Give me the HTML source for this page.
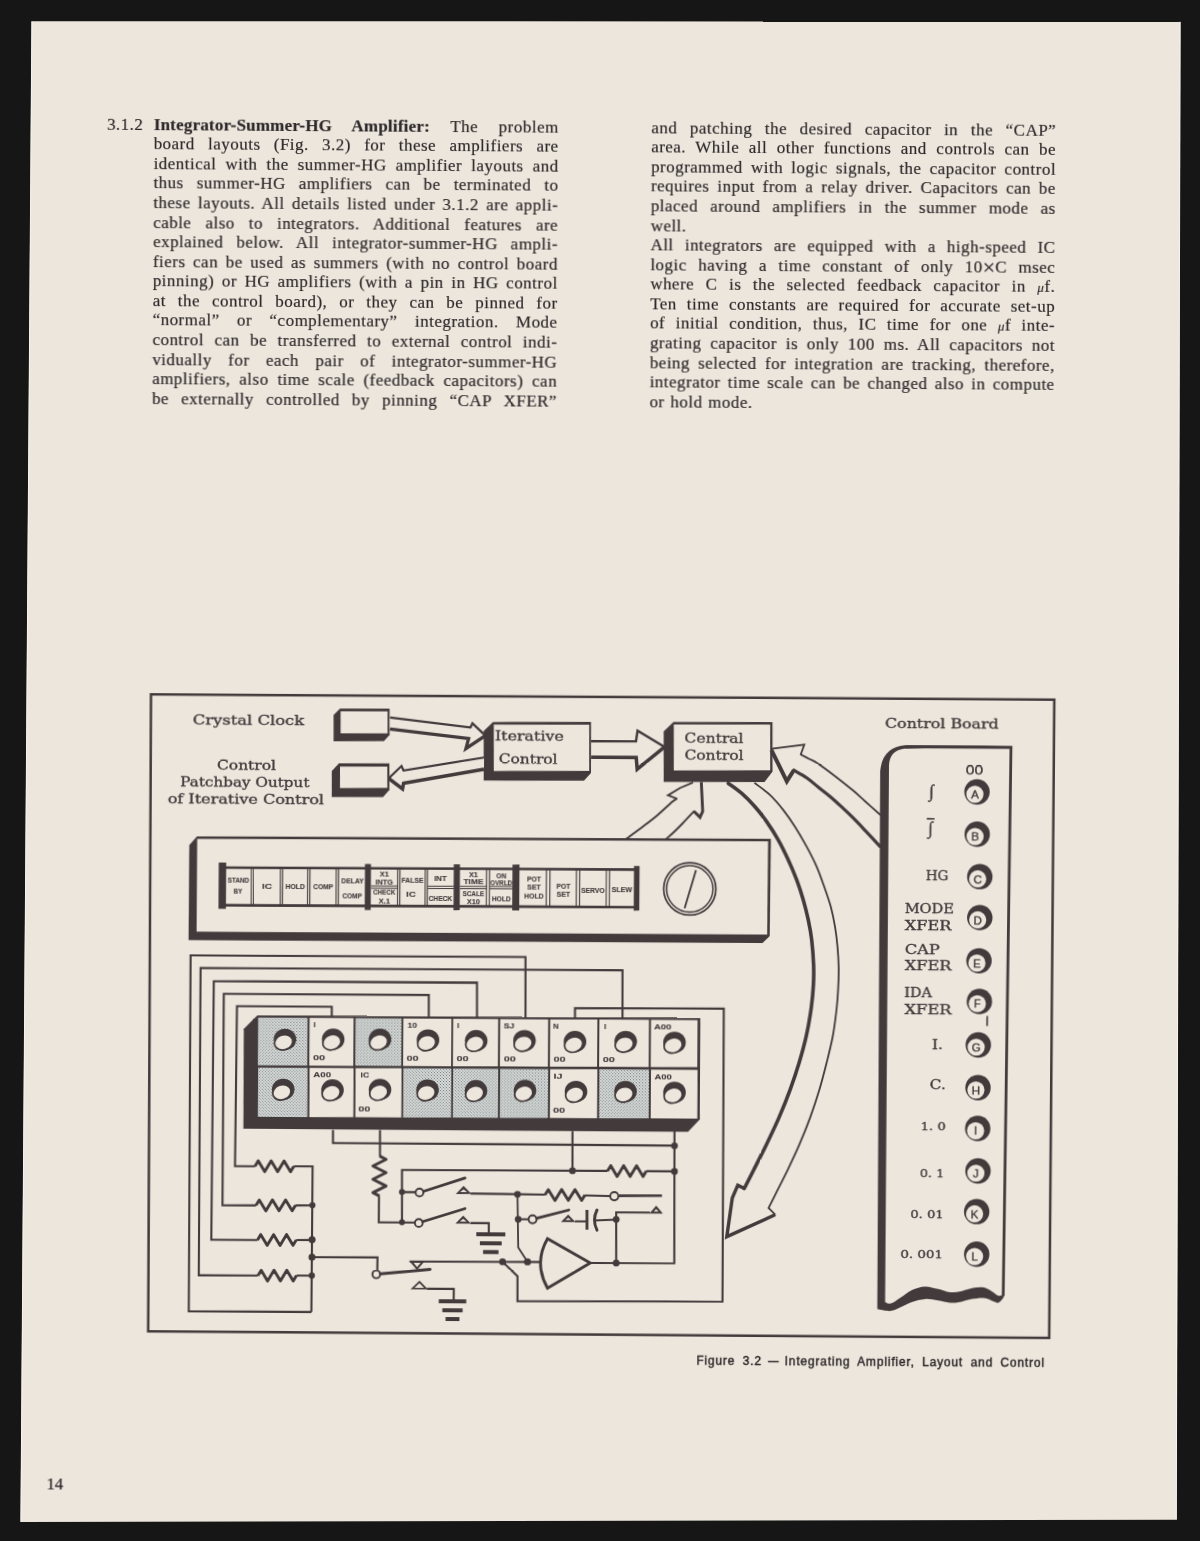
<!DOCTYPE html>
<html lang="en"><head><meta charset="utf-8"><title>Integrator-Summer-HG Amplifier &mdash; page 14</title>
<style>
html,body{margin:0;padding:0;background:#161616;}
#scan{position:relative;width:1200px;height:1541px;overflow:hidden;background:#161616;}
#paper{position:absolute;left:0;top:0;}
#sheet{position:absolute;left:0;top:0;width:1200px;height:1541px;transform:rotate(0.37deg);transform-origin:600px 770px;will-change:transform;
 color:#2d2829;font-family:"Liberation Serif","DejaVu Serif",serif;}
.col{position:absolute;width:405px;font-size:17px;line-height:19.58px;letter-spacing:0.48px;-webkit-text-stroke:0.18px #2d2829;}
.col p{margin:0;height:19.58px;white-space:nowrap;text-align:justify;text-align-last:justify;overflow:visible;}
.col p.nj{text-align:left;text-align-last:left;word-spacing:1px;}
.col b{font-weight:bold;letter-spacing:0.2px;}
.mu{font-size:13px;}
.x{font-size:22px;line-height:0;vertical-align:-1.5px;letter-spacing:0;}
#secno{position:absolute;font-size:17px;line-height:19.58px;letter-spacing:0.48px;-webkit-text-stroke:0.18px #2d2829;}
#cap{position:absolute;font-family:"Liberation Sans","DejaVu Sans",sans-serif;font-size:12px;line-height:14px;white-space:nowrap;
 letter-spacing:0.83px;word-spacing:3.2px;-webkit-text-stroke:0.42px #2d2829;}
#pgno{position:absolute;font-size:16.6px;line-height:18px;letter-spacing:0;-webkit-text-stroke:0.2px #2d2829;}
#dia{position:absolute;left:0;top:0;}
#dia text{fill:#423a3b;stroke:#423a3b;stroke-width:0.34px;}
#dia .ds{font-family:"DejaVu Serif","Liberation Serif",serif;}
#dia .ls{font-family:"Liberation Sans","DejaVu Sans",sans-serif;}
#dia .lr{font-family:"Liberation Serif","DejaVu Serif",serif;}
</style></head><body>
<div id="scan">
<svg id="paper" width="1200" height="1541" viewBox="0 0 1200 1541"><polygon points="31.6,21.2 1180.4,21.6 1176.6,1519.8 20.6,1522" fill="#ece6dd"/><path d="M31.9 21.4 L20.9 1521.8 M1180.1 21.8 L1176.3 1519.6" stroke="#f7f4ee" stroke-width="1" fill="none"/></svg>
<div id="sheet">
<div id="secno" style="left:102.88px;top:117.7px;">3.1.2</div>
<div class="col" style="left:149.63px;top:117.7px;">
<p><b>Integrator-Summer-HG Amplifier:</b> The problem</p>
<p>board layouts (Fig. 3.2) for these amplifiers are</p>
<p>identical with the summer-HG amplifier layouts and</p>
<p>thus summer-HG amplifiers can be terminated to</p>
<p>these layouts. All details listed under 3.1.2 are appli-</p>
<p>cable also to integrators. Additional features are</p>
<p>explained below. All integrator-summer-HG ampli-</p>
<p>fiers can be used as summers (with no control board</p>
<p>pinning) or HG amplifiers (with a pin in HG control</p>
<p>at the control board), or they can be pinned for</p>
<p>&ldquo;normal&rdquo; or &ldquo;complementary&rdquo; integration. Mode</p>
<p>control can be transferred to external control indi-</p>
<p>vidually for each pair of integrator-summer-HG</p>
<p>amplifiers, also time scale (feedback capacitors) can</p>
<p>be externally controlled by pinning &ldquo;CAP XFER&rdquo;</p>
</div>
<div class="col" style="left:647.14px;top:117.7px;">
<p>and patching the desired capacitor in the &ldquo;CAP&rdquo;</p>
<p>area. While all other functions and controls can be</p>
<p>programmed with logic signals, the capacitor control</p>
<p>requires input from a relay driver. Capacitors can be</p>
<p>placed around amplifiers in the summer mode as</p>
<p class="nj">well.</p>
<p>All integrators are equipped with a high-speed IC</p>
<p>logic having a time constant of only 10<span class="x">&times;</span>C msec</p>
<p>where C is the selected feedback capacitor in <i class="mu">&mu;</i>f.</p>
<p>Ten time constants are required for accurate set-up</p>
<p>of initial condition, thus, IC time for one <i class="mu">&mu;</i>f inte-</p>
<p>grating capacitor is only 100 ms. All capacitors not</p>
<p>being selected for integration are tracking, therefore,</p>
<p>integrator time scale can be changed also in compute</p>
<p class="nj">or hold mode.</p>
</div>
<svg id="dia" width="1200" height="1541" viewBox="0 0 1200 1541">
<defs><pattern id="ht" width="2.1" height="2.1" patternUnits="userSpaceOnUse" patternTransform="rotate(45)"><rect width="2.1" height="2.1" fill="#dce0de"/><circle cx="1.05" cy="1.05" r="0.6" fill="#6a7172"/></pattern></defs>
<path d="M150.52 697.2 L1053.84 696.67 L1052.86 1335.09 L151.83 1334.21 Z" fill="none" stroke="#423a3b" stroke-width="2.5" stroke-linecap="butt" stroke-linejoin="miter"/>
<path d="M339.61 710.28 L389.21 709.96 L389.38 736.36 L383.82 742.6 L333.42 742.92 L333.25 716.72 Z" fill="#423a3b" stroke="none" stroke-width="0" stroke-linejoin="miter"/>
<path d="M340.23 712.98 L387.23 712.67 L387.37 734.67 L340.37 734.98 Z" fill="#ece6dd" stroke="none" stroke-width="0" stroke-linejoin="miter"/>
<path d="M338.96 765.09 L389.36 764.76 L389.53 791.36 L383.18 798.4 L331.98 798.73 L331.81 772.73 Z" fill="#423a3b" stroke="none" stroke-width="0" stroke-linejoin="miter"/>
<path d="M339.98 768.28 L387.28 767.97 L387.42 789.37 L340.12 789.68 Z" fill="#ece6dd" stroke="none" stroke-width="0" stroke-linejoin="miter"/>
<path d="M492.69 722.69 L590.69 722.06 L591.02 773.06 L584.07 780.7 L483.77 781.35 L483.45 731.75 Z" fill="#423a3b" stroke="none" stroke-width="0" stroke-linejoin="miter"/>
<path d="M493.51 725.29 L588.91 724.67 L589.21 771.07 L493.81 771.69 Z" fill="#ece6dd" stroke="none" stroke-width="0" stroke-linejoin="miter"/>
<path d="M673.19 721.53 L772.19 720.89 L772.51 770.39 L764.57 780.94 L663.78 781.59 L663.45 731.09 Z" fill="#423a3b" stroke="none" stroke-width="0" stroke-linejoin="miter"/>
<path d="M673.51 724.12 L769.9 723.5 L770.2 769.3 L673.8 769.92 Z" fill="#ece6dd" stroke="none" stroke-width="0" stroke-linejoin="miter"/>
<text x="192.42" y="727.23" font-size="13.2" text-anchor="start" class="ds" font-weight="normal" textLength="111.5" lengthAdjust="spacingAndGlyphs">Crystal Clock</text>
<text x="217" y="771.87" font-size="13.2" text-anchor="start" class="ds" font-weight="normal" textLength="59" lengthAdjust="spacingAndGlyphs">Control</text>
<text x="180.31" y="789.01" font-size="13.2" text-anchor="start" class="ds" font-weight="normal" textLength="129.2" lengthAdjust="spacingAndGlyphs">Patchbay Output</text>
<text x="167.92" y="805.79" font-size="13.2" text-anchor="start" class="ds" font-weight="normal" textLength="156.3" lengthAdjust="spacingAndGlyphs">of Iterative Control</text>
<text x="884.72" y="726.16" font-size="13.2" text-anchor="start" class="ds" font-weight="normal" textLength="113.8" lengthAdjust="spacingAndGlyphs">Control Board</text>
<path d="M389.67 718.86 L470.23 728.34 L472.2 724.12 L485.18 736.34 L465.86 749.37 L468.4 739.45 L389.74 730.36 Z" fill="#ece6dd" stroke="#423a3b" stroke-width="0" stroke-linecap="butt" stroke-linejoin="miter"/>
<path d="M389.67 718.86 L470.23 728.34 L472.2 724.12 L485.18 736.34" fill="none" stroke="#423a3b" stroke-width="2.3" stroke-linecap="butt" stroke-linejoin="miter"/>
<path d="M485.18 736.34 L465.86 749.37 L468.4 739.45 L389.74 730.36" fill="none" stroke="#423a3b" stroke-width="3.3" stroke-linecap="butt" stroke-linejoin="miter"/>
<path d="M483.92 758.25 L403.51 771.77 L401.48 767.28 L388.66 779.76 L402.63 790.27 L403.69 784.47 L484 769.95 Z" fill="#ece6dd" stroke="#423a3b" stroke-width="0" stroke-linecap="butt" stroke-linejoin="miter"/>
<path d="M483.92 758.25 L403.51 771.77 L401.48 767.28 L388.66 779.76" fill="none" stroke="#423a3b" stroke-width="2.2" stroke-linecap="butt" stroke-linejoin="miter"/>
<path d="M388.66 779.76 L402.63 790.27 L403.69 784.47 L484 769.95" fill="none" stroke="#423a3b" stroke-width="3.5" stroke-linecap="butt" stroke-linejoin="miter"/>
<path d="M591.01 741.26 L635.81 740.97 L637.34 730.36 L664.35 746.58 L637.19 768.96 L636.12 757.17 L591.12 757.26 Z" fill="#ece6dd" stroke="#423a3b" stroke-width="0" stroke-linecap="butt" stroke-linejoin="miter"/>
<path d="M591.01 741.26 L635.81 740.97 L637.34 730.36 L664.35 746.58" fill="none" stroke="#423a3b" stroke-width="2.4" stroke-linecap="butt" stroke-linejoin="miter"/>
<path d="M664.35 746.58 L637.19 768.96 L636.12 757.17 L591.12 757.26" fill="none" stroke="#423a3b" stroke-width="3.5" stroke-linecap="butt" stroke-linejoin="miter"/>
<path d="M627.14 838.33 C629.85 836.31 638.29 830.12 643.36 826.22 C648.44 822.32 652.78 819.04 657.59 814.93 C662.4 810.81 668.99 804.32 672.21 801.53 C675.42 798.75 676.1 798.76 676.88 798.2" fill="none" stroke="#423a3b" stroke-width="1.9" stroke-linecap="round" stroke-linejoin="round"/>
<path d="M676.88 798.2 L668.16 794.86 L680.11 787.48 L693.08 781.8" fill="none" stroke="#423a3b" stroke-width="1.9" stroke-linecap="butt" stroke-linejoin="miter"/>
<path d="M701.38 781.35 L702.96 810.64 L700.3 816.65 L694.26 810.69" fill="none" stroke="#423a3b" stroke-width="2.9" stroke-linecap="butt" stroke-linejoin="miter"/>
<path d="M694.26 810.69 C692.39 812.7 686.35 819.29 683.04 822.76 C679.73 826.24 677.05 828.97 674.4 831.52 C671.75 834.07 668.35 836.98 667.14 838.07" fill="none" stroke="#423a3b" stroke-width="1.9" stroke-linecap="round" stroke-linejoin="round"/>
<path d="M800.7 753.2 L804.13 743.28 L771.56 747.69" fill="none" stroke="#423a3b" stroke-width="1.8" stroke-linecap="butt" stroke-linejoin="miter"/>
<path d="M800.7 753.2 C802.07 753.91 806 755.92 808.92 757.45 C811.85 758.98 813.77 759.44 818.26 762.39 C822.74 765.34 829.98 770.73 835.84 775.18 C841.7 779.62 848.54 785.01 853.43 789.06 C858.32 793.12 860.72 795.53 865.2 799.49 C869.67 803.44 877.77 810.57 880.28 812.79" fill="none" stroke="#423a3b" stroke-width="1.8" stroke-linecap="round" stroke-linejoin="round"/>
<path d="M771.27 748.89 L786.87 780.09 L793.8 768.95" fill="none" stroke="#423a3b" stroke-width="4" stroke-linecap="butt" stroke-linejoin="miter"/>
<path d="M793.8 768.95 C795.96 770.2 802.64 773.66 806.75 776.47 C810.85 779.27 814.5 782.7 818.41 785.79 C822.31 788.88 826.25 791.74 830.17 795.01 C834.09 798.29 838.03 801.86 841.93 805.44 C845.84 809.01 849.7 812.61 853.61 816.46 C857.51 820.32 860.9 823.9 865.38 828.59 C869.86 833.28 877.97 841.92 880.49 844.59" fill="none" stroke="#423a3b" stroke-width="3.2" stroke-linecap="round" stroke-linejoin="round"/>
<path d="M728.38 782.47 C730.63 784.12 737.37 788.51 741.85 792.38 C746.32 796.26 751.04 800.99 755.23 805.7 C759.43 810.4 763.11 815.1 767.03 820.62 C770.95 826.15 775.11 832.49 778.75 838.85 C782.39 845.21 785.77 852.14 788.88 858.78 C791.99 865.43 794.86 872.08 797.41 878.73 C799.95 885.38 802.16 892.03 804.14 898.68 C806.11 905.34 807.82 911.99 809.26 918.65 C810.71 925.31 811.86 931.14 812.79 938.63 C813.73 946.12 814.52 956.12 814.85 963.62 C815.19 971.11 815.12 976.53 814.78 983.62 C814.45 990.7 813.93 997.79 812.83 1006.13 C811.73 1014.47 810.16 1024.48 808.21 1033.66 C806.25 1042.84 803.78 1052.02 801.08 1061.21 C798.39 1070.39 795.37 1079.58 792.06 1088.77 C788.76 1097.95 785.15 1107.14 781.24 1116.34 C777.33 1125.53 772.84 1135.02 768.62 1143.92 C764.39 1152.81 759.49 1162.43 755.88 1169.7 C752.28 1176.98 748.48 1184.58 747 1187.56" fill="none" stroke="#423a3b" stroke-width="3.6" stroke-linecap="round" stroke-linejoin="round"/>
<path d="M755.08 782.3 C757.6 784.23 765.41 789.48 770.16 793.9 C774.9 798.32 779.35 803.56 783.55 808.82 C787.76 814.07 791.42 819.35 795.36 825.44 C799.3 831.53 803.53 838.72 807.19 845.36 C810.85 852.01 814.36 858.65 817.32 865.3 C820.28 871.95 822.56 878.6 824.95 885.25 C827.34 891.9 829.83 898.55 831.68 905.21 C833.52 911.86 834.85 918.52 836.01 925.18 C837.17 931.84 837.98 938.28 838.64 945.16 C839.3 952.04 839.81 959.57 839.97 966.45 C840.13 973.34 839.89 979.87 839.6 986.46 C839.32 993.04 839.09 998.13 838.28 1005.97 C837.46 1013.8 836.32 1024.31 834.71 1033.49 C833.09 1042.67 830.81 1051.85 828.58 1061.03 C826.36 1070.21 824.05 1079.39 821.36 1088.58 C818.67 1097.76 815.73 1106.95 812.44 1116.14 C809.15 1125.32 805.23 1135.13 801.62 1143.71 C798.01 1152.28 794.39 1159.92 790.77 1167.58 C787.15 1175.23 783.14 1183.09 779.91 1189.65 C776.69 1196.2 772.84 1204.03 771.42 1206.9" fill="none" stroke="#423a3b" stroke-width="1.8" stroke-linecap="round" stroke-linejoin="round"/>
<path d="M747 1187.56 L740.48 1184.4 L735.06 1197.14 L729.81 1235.87 L778.17 1213.56" fill="none" stroke="#423a3b" stroke-width="3.4" stroke-linecap="butt" stroke-linejoin="miter"/>
<path d="M778.17 1213.56 L771.42 1206.9" fill="none" stroke="#423a3b" stroke-width="1.8" stroke-linecap="butt" stroke-linejoin="miter"/>
<path d="M197.44 839 L771.34 837.69 L770.77 934.9 L763.61 941.95 L189.71 942.85 L189.79 847.65 Z" fill="#423a3b" stroke="none" stroke-width="0" stroke-linejoin="miter"/>
<path d="M197.65 841.5 L768.56 840.21 L768.26 933.52 L197.65 934.2 Z" fill="#ece6dd" stroke="none" stroke-width="0" stroke-linejoin="miter"/>
<path d="M222.64 870.04 L637.64 869.36" fill="none" stroke="#423a3b" stroke-width="2.6" stroke-linecap="butt" stroke-linejoin="miter"/>
<path d="M222.88 907.64 L637.89 906.96" fill="none" stroke="#423a3b" stroke-width="2.6" stroke-linecap="butt" stroke-linejoin="miter"/>
<path d="M219.41 864.96 L226.81 864.91 L226.8 911.21 L219.4 911.26 Z" fill="#423a3b" stroke="none" stroke-width="0" stroke-linejoin="miter"/>
<path d="M365.61 865.52 L371.61 865.48 L371.61 911.48 L365.61 911.52 Z" fill="#423a3b" stroke="none" stroke-width="0" stroke-linejoin="miter"/>
<path d="M454.41 865.34 L460.61 865.3 L460.61 911.1 L454.41 911.14 Z" fill="#423a3b" stroke="none" stroke-width="0" stroke-linejoin="miter"/>
<path d="M513.11 865.16 L520.11 865.12 L520.11 910.92 L513.11 910.96 Z" fill="#423a3b" stroke="none" stroke-width="0" stroke-linejoin="miter"/>
<path d="M634.62 865.78 L640.22 865.74 L640.21 910.34 L634.61 910.38 Z" fill="#423a3b" stroke="none" stroke-width="0" stroke-linejoin="miter"/>
<path d="M252.14 870 L252.13 907.6" fill="none" stroke="#423a3b" stroke-width="1.1" stroke-linecap="butt" stroke-linejoin="miter"/>
<path d="M254.44 869.99 L254.43 907.6" fill="none" stroke="#423a3b" stroke-width="1.1" stroke-linecap="butt" stroke-linejoin="miter"/>
<path d="M281.14 869.95 L281.13 907.55" fill="none" stroke="#423a3b" stroke-width="1.1" stroke-linecap="butt" stroke-linejoin="miter"/>
<path d="M283.34 869.95 L283.33 907.55" fill="none" stroke="#423a3b" stroke-width="1.1" stroke-linecap="butt" stroke-linejoin="miter"/>
<path d="M308.44 869.9 L308.43 907.5" fill="none" stroke="#423a3b" stroke-width="1.1" stroke-linecap="butt" stroke-linejoin="miter"/>
<path d="M310.64 869.9 L310.63 907.5" fill="none" stroke="#423a3b" stroke-width="1.1" stroke-linecap="butt" stroke-linejoin="miter"/>
<path d="M336.94 869.86 L336.93 907.46" fill="none" stroke="#423a3b" stroke-width="1.1" stroke-linecap="butt" stroke-linejoin="miter"/>
<path d="M339.24 869.85 L339.23 907.45" fill="none" stroke="#423a3b" stroke-width="1.1" stroke-linecap="butt" stroke-linejoin="miter"/>
<path d="M398.44 869.75 L398.43 907.35" fill="none" stroke="#423a3b" stroke-width="1.1" stroke-linecap="butt" stroke-linejoin="miter"/>
<path d="M400.64 869.75 L400.63 907.35" fill="none" stroke="#423a3b" stroke-width="1.1" stroke-linecap="butt" stroke-linejoin="miter"/>
<path d="M425.94 869.71 L425.93 907.31" fill="none" stroke="#423a3b" stroke-width="1.1" stroke-linecap="butt" stroke-linejoin="miter"/>
<path d="M428.14 869.7 L428.13 907.3" fill="none" stroke="#423a3b" stroke-width="1.1" stroke-linecap="butt" stroke-linejoin="miter"/>
<path d="M487.24 869.6 L487.23 907.2" fill="none" stroke="#423a3b" stroke-width="1.1" stroke-linecap="butt" stroke-linejoin="miter"/>
<path d="M490.24 869.6 L490.23 907.2" fill="none" stroke="#423a3b" stroke-width="1.1" stroke-linecap="butt" stroke-linejoin="miter"/>
<path d="M547.14 869.5 L547.13 907.1" fill="none" stroke="#423a3b" stroke-width="1.1" stroke-linecap="butt" stroke-linejoin="miter"/>
<path d="M550.64 869.5 L550.63 907.1" fill="none" stroke="#423a3b" stroke-width="1.1" stroke-linecap="butt" stroke-linejoin="miter"/>
<path d="M577.14 869.45 L577.13 907.05" fill="none" stroke="#423a3b" stroke-width="1.1" stroke-linecap="butt" stroke-linejoin="miter"/>
<path d="M580.44 869.45 L580.43 907.05" fill="none" stroke="#423a3b" stroke-width="1.1" stroke-linecap="butt" stroke-linejoin="miter"/>
<path d="M607.04 869.4 L607.03 907" fill="none" stroke="#423a3b" stroke-width="1.1" stroke-linecap="butt" stroke-linejoin="miter"/>
<path d="M610.24 869.4 L610.23 907" fill="none" stroke="#423a3b" stroke-width="1.1" stroke-linecap="butt" stroke-linejoin="miter"/>
<path d="M371.75 887.4 L398.55 887.32" fill="none" stroke="#423a3b" stroke-width="1" stroke-linecap="butt" stroke-linejoin="miter"/>
<path d="M371.77 889.7 L398.57 889.62" fill="none" stroke="#423a3b" stroke-width="1" stroke-linecap="butt" stroke-linejoin="miter"/>
<path d="M428.25 887.3 L454.75 887.23" fill="none" stroke="#423a3b" stroke-width="1" stroke-linecap="butt" stroke-linejoin="miter"/>
<path d="M428.27 889.6 L454.77 889.53" fill="none" stroke="#423a3b" stroke-width="1" stroke-linecap="butt" stroke-linejoin="miter"/>
<path d="M460.75 887.25 L487.35 887.18" fill="none" stroke="#423a3b" stroke-width="1" stroke-linecap="butt" stroke-linejoin="miter"/>
<path d="M460.77 889.55 L487.37 889.48" fill="none" stroke="#423a3b" stroke-width="1" stroke-linecap="butt" stroke-linejoin="miter"/>
<path d="M490.35 887.2 L513.35 887.15" fill="none" stroke="#423a3b" stroke-width="1" stroke-linecap="butt" stroke-linejoin="miter"/>
<path d="M490.37 889.5 L513.37 889.45" fill="none" stroke="#423a3b" stroke-width="1" stroke-linecap="butt" stroke-linejoin="miter"/>
<text x="239.23" y="884.83" font-size="6.3" text-anchor="middle" class="ls" font-weight="bold" textLength="21.5" lengthAdjust="spacingAndGlyphs" style="stroke-width:0.1px">STAND</text>
<text x="238.81" y="895.84" font-size="6.3" text-anchor="middle" class="ls" font-weight="bold" textLength="8.5" lengthAdjust="spacingAndGlyphs" style="stroke-width:0.1px">BY</text>
<text x="267.78" y="891.45" font-size="6.3" text-anchor="middle" class="ls" font-weight="bold" textLength="10" lengthAdjust="spacingAndGlyphs" style="stroke-width:0.1px">IC</text>
<text x="295.98" y="891.47" font-size="6.3" text-anchor="middle" class="ls" font-weight="bold" textLength="19.5" lengthAdjust="spacingAndGlyphs" style="stroke-width:0.1px">HOLD</text>
<text x="324.08" y="891.28" font-size="6.3" text-anchor="middle" class="ls" font-weight="bold" textLength="20" lengthAdjust="spacingAndGlyphs" style="stroke-width:0.1px">COMP</text>
<text x="353.24" y="885.4" font-size="6.3" text-anchor="middle" class="ls" font-weight="bold" textLength="22.5" lengthAdjust="spacingAndGlyphs" style="stroke-width:0.1px">DELAY</text>
<text x="353.13" y="900.1" font-size="6.3" text-anchor="middle" class="ls" font-weight="bold" textLength="19.5" lengthAdjust="spacingAndGlyphs" style="stroke-width:0.1px">COMP</text>
<text x="384.99" y="877.89" font-size="6.3" text-anchor="middle" class="ls" font-weight="bold" textLength="9" lengthAdjust="spacingAndGlyphs" style="stroke-width:0.1px">X1</text>
<text x="385.04" y="885.59" font-size="6.3" text-anchor="middle" class="ls" font-weight="bold" textLength="17.5" lengthAdjust="spacingAndGlyphs" style="stroke-width:0.1px">INTG</text>
<text x="385.11" y="896.39" font-size="6.3" text-anchor="middle" class="ls" font-weight="bold" textLength="22" lengthAdjust="spacingAndGlyphs" style="stroke-width:0.1px">CHECK</text>
<text x="385.17" y="904.99" font-size="6.3" text-anchor="middle" class="ls" font-weight="bold" textLength="11.5" lengthAdjust="spacingAndGlyphs" style="stroke-width:0.1px">X.1</text>
<text x="413.33" y="884.21" font-size="6.3" text-anchor="middle" class="ls" font-weight="bold" textLength="22" lengthAdjust="spacingAndGlyphs" style="stroke-width:0.1px">FALSE</text>
<text x="411.82" y="897.72" font-size="6.3" text-anchor="middle" class="ls" font-weight="bold" textLength="9.5" lengthAdjust="spacingAndGlyphs" style="stroke-width:0.1px">IC</text>
<text x="441.22" y="882.03" font-size="6.3" text-anchor="middle" class="ls" font-weight="bold" textLength="12.5" lengthAdjust="spacingAndGlyphs" style="stroke-width:0.1px">INT</text>
<text x="441.35" y="901.53" font-size="6.3" text-anchor="middle" class="ls" font-weight="bold" textLength="23.5" lengthAdjust="spacingAndGlyphs" style="stroke-width:0.1px">CHECK</text>
<text x="474.19" y="877.81" font-size="6.3" text-anchor="middle" class="ls" font-weight="bold" textLength="9" lengthAdjust="spacingAndGlyphs" style="stroke-width:0.1px">X1</text>
<text x="474.24" y="885.21" font-size="6.3" text-anchor="middle" class="ls" font-weight="bold" textLength="20" lengthAdjust="spacingAndGlyphs" style="stroke-width:0.1px">TIME</text>
<text x="474.32" y="896.61" font-size="6.3" text-anchor="middle" class="ls" font-weight="bold" textLength="21.5" lengthAdjust="spacingAndGlyphs" style="stroke-width:0.1px">SCALE</text>
<text x="474.37" y="904.81" font-size="6.3" text-anchor="middle" class="ls" font-weight="bold" textLength="13" lengthAdjust="spacingAndGlyphs" style="stroke-width:0.1px">X10</text>
<text x="502" y="878.64" font-size="6.3" text-anchor="middle" class="ls" font-weight="bold" textLength="10" lengthAdjust="spacingAndGlyphs" style="stroke-width:0.1px">ON</text>
<text x="502.04" y="885.63" font-size="6.3" text-anchor="middle" class="ls" font-weight="bold" textLength="22" lengthAdjust="spacingAndGlyphs" style="stroke-width:0.1px">OVRLD</text>
<text x="502.15" y="901.63" font-size="6.3" text-anchor="middle" class="ls" font-weight="bold" textLength="19" lengthAdjust="spacingAndGlyphs" style="stroke-width:0.1px">HOLD</text>
<text x="534.72" y="882.22" font-size="6.3" text-anchor="middle" class="ls" font-weight="bold" textLength="14" lengthAdjust="spacingAndGlyphs" style="stroke-width:0.1px">POT</text>
<text x="534.78" y="890.42" font-size="6.3" text-anchor="middle" class="ls" font-weight="bold" textLength="13.5" lengthAdjust="spacingAndGlyphs" style="stroke-width:0.1px">SET</text>
<text x="534.83" y="898.92" font-size="6.3" text-anchor="middle" class="ls" font-weight="bold" textLength="19.5" lengthAdjust="spacingAndGlyphs" style="stroke-width:0.1px">HOLD</text>
<text x="564.27" y="888.73" font-size="6.3" text-anchor="middle" class="ls" font-weight="bold" textLength="14" lengthAdjust="spacingAndGlyphs" style="stroke-width:0.1px">POT</text>
<text x="564.32" y="897.23" font-size="6.3" text-anchor="middle" class="ls" font-weight="bold" textLength="13.5" lengthAdjust="spacingAndGlyphs" style="stroke-width:0.1px">SET</text>
<text x="593.79" y="892.84" font-size="6.3" text-anchor="middle" class="ls" font-weight="bold" textLength="23.5" lengthAdjust="spacingAndGlyphs" style="stroke-width:0.1px">SERVO</text>
<text x="622.79" y="892.16" font-size="6.3" text-anchor="middle" class="ls" font-weight="bold" textLength="20.5" lengthAdjust="spacingAndGlyphs" style="stroke-width:0.1px">SLEW</text>
<circle cx="690.57" cy="888.32" r="26.1" fill="#ece6dd" stroke="#423a3b" stroke-width="1.7"/>
<circle cx="690.57" cy="888.32" r="23.2" fill="none" stroke="#423a3b" stroke-width="1.5"/>
<path d="M696.64 869.38 L685.49 907.75" fill="none" stroke="#423a3b" stroke-width="1.8" stroke-linecap="butt" stroke-linejoin="miter"/>
<text x="494.81" y="741.08" font-size="13.2" text-anchor="start" class="ds" font-weight="normal" textLength="68.8" lengthAdjust="spacingAndGlyphs">Iterative</text>
<text x="498.76" y="764.05" font-size="13.2" text-anchor="start" class="ds" font-weight="normal" textLength="58.8" lengthAdjust="spacingAndGlyphs">Control</text>
<text x="684.32" y="742.25" font-size="13.2" text-anchor="start" class="ds" font-weight="normal" textLength="59" lengthAdjust="spacingAndGlyphs">Central</text>
<text x="684.43" y="758.65" font-size="13.2" text-anchor="start" class="ds" font-weight="normal" textLength="59" lengthAdjust="spacingAndGlyphs">Control</text>
<path d="M527.11 1019.48 L526.71 957.48 L191.81 958.04 L192.3 1313.94 L314.91 1313.85" fill="none" stroke="#423a3b" stroke-width="2.1" stroke-linecap="butt" stroke-linejoin="miter"/>
<path d="M624.11 1019.35 L623.79 970.05 L201.89 970.58 L202.07 1277.88 L261.27 1277.8" fill="none" stroke="#423a3b" stroke-width="2.1" stroke-linecap="butt" stroke-linejoin="miter"/>
<path d="M478.61 1019.29 L478.38 983.39 L215.17 983.69 L214.34 1242.3 L260.54 1242.2" fill="none" stroke="#423a3b" stroke-width="2.1" stroke-linecap="butt" stroke-linejoin="miter"/>
<path d="M430.41 1019.1 L430.26 996.1 L225.25 996.22 L225.32 1207.73 L258.82 1207.61" fill="none" stroke="#423a3b" stroke-width="2.1" stroke-linecap="butt" stroke-linejoin="miter"/>
<path d="M333.4 1019.23 L333.33 1008.53 L238.53 1008.54 L237.57 1168.55 L257.57 1168.52" fill="none" stroke="#423a3b" stroke-width="2.1" stroke-linecap="butt" stroke-linejoin="miter"/>
<path d="M576.61 1019.66 L576.54 1008.36 L725.34 1007.8 L725.93 1300.8 L520.93 1301.72 L520.77 1276.82 L505.68 1262.42" fill="none" stroke="#423a3b" stroke-width="2.1" stroke-linecap="butt" stroke-linejoin="miter"/>
<path d="M257.57 1168.52 L260.76 1163.1 L267.3 1173.86 L273.7 1163.02 L280.23 1173.77 L286.63 1162.93 L293.17 1173.69 L296.37 1168.27" fill="none" stroke="#423a3b" stroke-width="2.9" stroke-linecap="butt" stroke-linejoin="round"/>
<path d="M258.82 1207.61 L262.08 1202.19 L268.73 1212.95 L275.24 1202.11 L281.89 1212.86 L288.41 1202.02 L295.06 1212.78 L298.32 1207.36" fill="none" stroke="#423a3b" stroke-width="2.9" stroke-linecap="butt" stroke-linejoin="round"/>
<path d="M260.54 1242.2 L263.73 1236.78 L270.25 1247.54 L276.63 1236.7 L283.15 1247.46 L289.53 1236.61 L296.05 1247.37 L299.24 1241.95" fill="none" stroke="#423a3b" stroke-width="2.9" stroke-linecap="butt" stroke-linejoin="round"/>
<path d="M261.27 1277.8 L264.44 1272.38 L270.91 1283.14 L277.24 1272.29 L283.71 1283.05 L290.04 1272.21 L296.51 1282.97 L299.67 1277.55" fill="none" stroke="#423a3b" stroke-width="2.9" stroke-linecap="butt" stroke-linejoin="round"/>
<path d="M296.37 1168.27 L315.17 1168.25 L314.91 1313.85" fill="none" stroke="#423a3b" stroke-width="2.1" stroke-linecap="butt" stroke-linejoin="miter"/>
<path d="M298.32 1207.36 L315.22 1207.25" fill="none" stroke="#423a3b" stroke-width="2.1" stroke-linecap="butt" stroke-linejoin="miter"/>
<path d="M299.24 1241.95 L315.14 1241.85" fill="none" stroke="#423a3b" stroke-width="2.1" stroke-linecap="butt" stroke-linejoin="miter"/>
<path d="M299.67 1277.55 L315.07 1277.45" fill="none" stroke="#423a3b" stroke-width="2.1" stroke-linecap="butt" stroke-linejoin="miter"/>
<circle cx="315.22" cy="1207.05" r="3.1" fill="#423a3b" stroke="none" stroke-width="0"/>
<circle cx="315.14" cy="1241.45" r="3.5" fill="#423a3b" stroke="none" stroke-width="0"/>
<circle cx="315.15" cy="1259.05" r="3.5" fill="#423a3b" stroke="none" stroke-width="0"/>
<circle cx="315.07" cy="1277.45" r="3.1" fill="#423a3b" stroke="none" stroke-width="0"/>
<path d="M315.15 1259.05 L380.65 1258.83 L380.53 1271.43" fill="none" stroke="#423a3b" stroke-width="2.1" stroke-linecap="butt" stroke-linejoin="miter"/>
<circle cx="379.56" cy="1275.73" r="3.9" fill="#ece6dd" stroke="#423a3b" stroke-width="1.9"/>
<path d="M383.76 1275.21 L433.23 1270.49" fill="none" stroke="#423a3b" stroke-width="2.9" stroke-linecap="round" stroke-linejoin="miter"/>
<path d="M412.68 1262.62 L427.68 1262.52 L420.23 1271.17 Z" fill="#423a3b" stroke="none" stroke-width="0" stroke-linejoin="miter"/>
<path d="M416.79 1263.99 L423.79 1263.95 L420.21 1268.17 Z" fill="#ece6dd" stroke="none" stroke-width="0" stroke-linejoin="miter"/>
<path d="M412.68 1262.72 L543.68 1262.37" fill="none" stroke="#423a3b" stroke-width="2.1" stroke-linecap="butt" stroke-linejoin="miter"/>
<path d="M413.86 1290.51 L431.36 1290.4 L422.8 1281.75 Z" fill="#423a3b" stroke="none" stroke-width="0" stroke-linejoin="miter"/>
<path d="M417.85 1288.99 L427.35 1288.93 L422.72 1284.16 Z" fill="#ece6dd" stroke="none" stroke-width="0" stroke-linejoin="miter"/>
<path d="M430.35 1289.91 L457.15 1289.83 L457.13 1301.93" fill="none" stroke="#423a3b" stroke-width="2.1" stroke-linecap="butt" stroke-linejoin="miter"/>
<path d="M442.18 1302.33 L469.68 1302.15" fill="none" stroke="#423a3b" stroke-width="4" stroke-linecap="butt" stroke-linejoin="miter"/>
<path d="M445.84 1311.31 L466.14 1311.28" fill="none" stroke="#423a3b" stroke-width="4" stroke-linecap="butt" stroke-linejoin="miter"/>
<path d="M449.1 1320.09 L463 1320.1" fill="none" stroke="#423a3b" stroke-width="4" stroke-linecap="butt" stroke-linejoin="miter"/>
<path d="M382.33 1131.41 L382.5 1157.41" fill="none" stroke="#423a3b" stroke-width="2.1" stroke-linecap="butt" stroke-linejoin="miter"/>
<path d="M382 1157.42 L388.62 1160.71 L375.46 1167.46 L388.7 1174.04 L375.55 1180.79 L388.79 1187.37 L375.63 1194.12 L382.26 1197.42" fill="none" stroke="#423a3b" stroke-width="2.9" stroke-linecap="butt" stroke-linejoin="round"/>
<path d="M381.76 1197.42 L381.72 1223.62 L420.93 1223.77" fill="none" stroke="#423a3b" stroke-width="2.1" stroke-linecap="butt" stroke-linejoin="miter"/>
<path d="M335.33 1131.72 L335.41 1144.72 L676.92 1145.11" fill="none" stroke="#423a3b" stroke-width="2.1" stroke-linecap="butt" stroke-linejoin="miter"/>
<path d="M420.73 1193.37 L404.73 1193.27 L404.93 1223.67" fill="none" stroke="#423a3b" stroke-width="2.1" stroke-linecap="butt" stroke-linejoin="miter"/>
<path d="M404.73 1193.27 L404.59 1171.27 L610.09 1170.84" fill="none" stroke="#423a3b" stroke-width="2.1" stroke-linecap="butt" stroke-linejoin="miter"/>
<circle cx="404.73" cy="1193.27" r="3" fill="#423a3b" stroke="none" stroke-width="0"/>
<circle cx="404.92" cy="1223.47" r="3" fill="#423a3b" stroke="none" stroke-width="0"/>
<circle cx="422.23" cy="1193.66" r="3.9" fill="#ece6dd" stroke="#423a3b" stroke-width="1.9"/>
<circle cx="421.73" cy="1224.16" r="3.9" fill="#ece6dd" stroke="#423a3b" stroke-width="1.9"/>
<path d="M426.22 1192.43 L467.64 1178.86" fill="none" stroke="#423a3b" stroke-width="2.7" stroke-linecap="round" stroke-linejoin="miter"/>
<path d="M425.72 1222.73 L467.84 1209.46" fill="none" stroke="#423a3b" stroke-width="2.7" stroke-linecap="round" stroke-linejoin="miter"/>
<path d="M458.59 1194.92 L474.09 1194.82 L466.29 1186.87 Z" fill="#423a3b" stroke="none" stroke-width="0" stroke-linejoin="miter"/>
<path d="M462.88 1192.99 L469.78 1192.95 L466.31 1190.27 Z" fill="#ece6dd" stroke="none" stroke-width="0" stroke-linejoin="miter"/>
<path d="M458.38 1224.52 L473.88 1224.42 L466.08 1216.47 Z" fill="#423a3b" stroke="none" stroke-width="0" stroke-linejoin="miter"/>
<path d="M462.67 1222.6 L469.57 1222.55 L466.1 1219.87 Z" fill="#ece6dd" stroke="none" stroke-width="0" stroke-linejoin="miter"/>
<path d="M473.24 1194.33 L547.74 1194.95" fill="none" stroke="#423a3b" stroke-width="2.1" stroke-linecap="butt" stroke-linejoin="miter"/>
<path d="M473.43 1223.83 L491.73 1223.91 L491.8 1234.71" fill="none" stroke="#423a3b" stroke-width="2.1" stroke-linecap="butt" stroke-linejoin="miter"/>
<path d="M479.3 1235.09 L508.3 1234.9" fill="none" stroke="#423a3b" stroke-width="4" stroke-linecap="butt" stroke-linejoin="miter"/>
<path d="M482.96 1244.07 L504.76 1244.02" fill="none" stroke="#423a3b" stroke-width="4" stroke-linecap="butt" stroke-linejoin="miter"/>
<path d="M486.22 1252.84 L501.62 1252.85" fill="none" stroke="#423a3b" stroke-width="4" stroke-linecap="butt" stroke-linejoin="miter"/>
<circle cx="575.09" cy="1170.97" r="3.4" fill="#423a3b" stroke="none" stroke-width="0"/>
<circle cx="676.93" cy="1145.31" r="3.4" fill="#423a3b" stroke="none" stroke-width="0"/>
<circle cx="677.09" cy="1170.91" r="3.4" fill="#423a3b" stroke="none" stroke-width="0"/>
<path d="M574.83 1131.17 L575.09 1170.97" fill="none" stroke="#423a3b" stroke-width="2.1" stroke-linecap="butt" stroke-linejoin="miter"/>
<path d="M610.09 1171.04 L613.29 1165.62 L619.82 1176.38 L626.22 1165.54 L632.76 1176.3 L639.15 1165.46 L645.69 1176.21 L648.89 1170.79" fill="none" stroke="#423a3b" stroke-width="2.9" stroke-linecap="butt" stroke-linejoin="round"/>
<path d="M648.89 1170.89 L677.09 1170.91" fill="none" stroke="#423a3b" stroke-width="2.1" stroke-linecap="butt" stroke-linejoin="miter"/>
<path d="M676.83 1130.51 L677.48 1262.81 L593.18 1263.05" fill="none" stroke="#423a3b" stroke-width="2.1" stroke-linecap="butt" stroke-linejoin="miter"/>
<circle cx="520.24" cy="1194.82" r="3.4" fill="#423a3b" stroke="none" stroke-width="0"/>
<circle cx="521.1" cy="1219.82" r="3.4" fill="#423a3b" stroke="none" stroke-width="0"/>
<path d="M547.75 1195.35 L551.04 1189.92 L557.78 1200.68 L564.38 1189.84 L571.11 1200.6 L577.71 1189.75 L584.45 1200.51 L587.74 1195.09" fill="none" stroke="#423a3b" stroke-width="2.9" stroke-linecap="butt" stroke-linejoin="round"/>
<path d="M587.75 1195.49 L612.75 1195.93" fill="none" stroke="#423a3b" stroke-width="2.1" stroke-linecap="butt" stroke-linejoin="miter"/>
<circle cx="617.05" cy="1196.1" r="4.1" fill="#ece6dd" stroke="#423a3b" stroke-width="1.9"/>
<path d="M621.75 1195.67 L664.75 1195.19" fill="none" stroke="#423a3b" stroke-width="2.6" stroke-linecap="butt" stroke-linejoin="miter"/>
<path d="M520.24 1194.82 L521.29 1248.02 L530.68 1262.26" fill="none" stroke="#423a3b" stroke-width="1.8" stroke-linecap="butt" stroke-linejoin="miter"/>
<path d="M521.1 1219.82 L531.4 1219.75" fill="none" stroke="#423a3b" stroke-width="2.1" stroke-linecap="butt" stroke-linejoin="miter"/>
<circle cx="535.5" cy="1219.73" r="4" fill="#ece6dd" stroke="#423a3b" stroke-width="1.9"/>
<path d="M539.7 1218.6 L571.64 1210.19" fill="none" stroke="#423a3b" stroke-width="2.7" stroke-linecap="round" stroke-linejoin="miter"/>
<path d="M563.87 1222.24 L578.37 1222.15 L571.07 1214.7 Z" fill="#423a3b" stroke="none" stroke-width="0" stroke-linejoin="miter"/>
<path d="M568.16 1220.32 L574.06 1220.28 L571.09 1218.1 Z" fill="#ece6dd" stroke="none" stroke-width="0" stroke-linejoin="miter"/>
<path d="M577.91 1221.45 L589.92 1221.47" fill="none" stroke="#423a3b" stroke-width="2.1" stroke-linecap="butt" stroke-linejoin="miter"/>
<path d="M589.84 1210.07 L589.97 1229.67" fill="none" stroke="#423a3b" stroke-width="2.9" stroke-linecap="butt" stroke-linejoin="miter"/>
<path d="M599.84 1210.01 Q594.91 1220.04 599.97 1230.21" fill="none" stroke="#423a3b" stroke-width="2.9" stroke-linecap="round"/>
<path d="M597.51 1220.43 L619.1 1219.49" fill="none" stroke="#423a3b" stroke-width="2.1" stroke-linecap="butt" stroke-linejoin="miter"/>
<circle cx="619.1" cy="1219.29" r="3.4" fill="#423a3b" stroke="none" stroke-width="0"/>
<circle cx="619.38" cy="1262.89" r="3.4" fill="#423a3b" stroke="none" stroke-width="0"/>
<path d="M619.38 1262.89 L619.06 1212.19 L652.86 1212.27" fill="none" stroke="#423a3b" stroke-width="2.1" stroke-linecap="butt" stroke-linejoin="miter"/>
<path d="M652.31 1213.27 L665.81 1213.18 L659.01 1205.23 Z" fill="#423a3b" stroke="none" stroke-width="0" stroke-linejoin="miter"/>
<path d="M656.6 1211.34 L661.5 1211.31 L659.03 1208.63 Z" fill="#ece6dd" stroke="none" stroke-width="0" stroke-linejoin="miter"/>
<circle cx="505.68" cy="1262.42" r="3.4" fill="#423a3b" stroke="none" stroke-width="0"/>
<circle cx="530.68" cy="1262.26" r="3.6" fill="#423a3b" stroke="none" stroke-width="0"/>
<path d="M550.53 1238.93 Q536.69 1263.42 550.85 1288.53 L593.38 1263.05 Z" fill="#ece6dd" stroke="#423a3b" stroke-width="2.9" stroke-linejoin="miter"/>
<path d="M259.09 1017.41 L701.9 1017.35 L702.05 1118.85 L690.33 1131.22 L245.72 1131.1 L245.48 1031.29 Z" fill="#423a3b" stroke="none" stroke-width="0" stroke-linejoin="miter"/>
<path d="M259.81 1019.8 L309.21 1019.78 L309.22 1067.49 L259.81 1067.6 Z" fill="url(#ht)" stroke="none" stroke-width="0" stroke-linejoin="miter"/>
<path d="M311.21 1019.78 L355.21 1019.75 L355.22 1067.38 L311.22 1067.48 Z" fill="#ece6dd" stroke="none" stroke-width="0" stroke-linejoin="miter"/>
<path d="M357.21 1019.75 L403.21 1019.72 L403.22 1067.26 L357.22 1067.37 Z" fill="url(#ht)" stroke="none" stroke-width="0" stroke-linejoin="miter"/>
<path d="M405.01 1019.72 L453.01 1019.7 L453.02 1067.15 L405.02 1067.26 Z" fill="#ece6dd" stroke="none" stroke-width="0" stroke-linejoin="miter"/>
<path d="M454.81 1019.7 L499.81 1019.67 L499.82 1067.04 L454.82 1067.14 Z" fill="#ece6dd" stroke="none" stroke-width="0" stroke-linejoin="miter"/>
<path d="M501.81 1019.67 L549.81 1019.64 L549.82 1066.92 L501.82 1067.03 Z" fill="#ece6dd" stroke="none" stroke-width="0" stroke-linejoin="miter"/>
<path d="M551.81 1019.64 L599.01 1019.62 L599.02 1066.8 L551.82 1066.91 Z" fill="#ece6dd" stroke="none" stroke-width="0" stroke-linejoin="miter"/>
<path d="M601.01 1019.62 L650.61 1019.59 L650.62 1066.68 L601.02 1066.8 Z" fill="#ece6dd" stroke="none" stroke-width="0" stroke-linejoin="miter"/>
<path d="M652.61 1019.59 L699.21 1019.56 L699.22 1066.56 L652.62 1066.67 Z" fill="#ece6dd" stroke="none" stroke-width="0" stroke-linejoin="miter"/>
<path d="M260.13 1069.8 L309.53 1069.73 L309.55 1118.89 L260.15 1119 Z" fill="url(#ht)" stroke="none" stroke-width="0" stroke-linejoin="miter"/>
<path d="M311.53 1069.73 L355.53 1069.66 L355.55 1118.78 L311.55 1118.88 Z" fill="#ece6dd" stroke="none" stroke-width="0" stroke-linejoin="miter"/>
<path d="M357.53 1069.66 L403.53 1069.59 L403.55 1118.66 L357.55 1118.77 Z" fill="#ece6dd" stroke="none" stroke-width="0" stroke-linejoin="miter"/>
<path d="M405.33 1069.59 L453.33 1069.52 L453.35 1118.55 L405.35 1118.66 Z" fill="url(#ht)" stroke="none" stroke-width="0" stroke-linejoin="miter"/>
<path d="M455.13 1069.52 L500.13 1069.45 L500.15 1118.43 L455.15 1118.54 Z" fill="url(#ht)" stroke="none" stroke-width="0" stroke-linejoin="miter"/>
<path d="M502.13 1069.45 L550.13 1069.38 L550.15 1118.32 L502.15 1118.43 Z" fill="url(#ht)" stroke="none" stroke-width="0" stroke-linejoin="miter"/>
<path d="M552.13 1069.38 L599.33 1069.31 L599.35 1118.2 L552.15 1118.31 Z" fill="#ece6dd" stroke="none" stroke-width="0" stroke-linejoin="miter"/>
<path d="M601.33 1069.3 L650.93 1069.23 L650.95 1118.08 L601.35 1118.2 Z" fill="url(#ht)" stroke="none" stroke-width="0" stroke-linejoin="miter"/>
<path d="M652.93 1069.23 L699.53 1069.16 L699.55 1117.96 L652.95 1118.07 Z" fill="#ece6dd" stroke="none" stroke-width="0" stroke-linejoin="miter"/>
<ellipse cx="286.75" cy="1041.33" rx="11.3" ry="10.7" fill="#423a3b"/>
<ellipse cx="285.45" cy="1044.33" rx="9.3" ry="7.5" stroke="#423a3b" stroke-width="1.7" fill="#ece6dd" transform="rotate(-20 285.45 1044.33)"/>
<ellipse cx="334.94" cy="1041.02" rx="11.3" ry="10.7" fill="#423a3b"/>
<ellipse cx="333.64" cy="1044.02" rx="9.3" ry="7.5" stroke="#423a3b" stroke-width="1.7" fill="#ece6dd" transform="rotate(-20 333.64 1044.02)"/>
<ellipse cx="381.74" cy="1040.72" rx="11.3" ry="10.7" fill="#423a3b"/>
<ellipse cx="380.44" cy="1043.72" rx="9.3" ry="7.5" stroke="#423a3b" stroke-width="1.7" fill="#ece6dd" transform="rotate(-20 380.44 1043.72)"/>
<ellipse cx="429.75" cy="1041.11" rx="11.3" ry="10.7" fill="#423a3b"/>
<ellipse cx="428.45" cy="1044.11" rx="9.3" ry="7.5" stroke="#423a3b" stroke-width="1.7" fill="#ece6dd" transform="rotate(-20 428.45 1044.11)"/>
<ellipse cx="477.95" cy="1041.49" rx="11.3" ry="10.7" fill="#423a3b"/>
<ellipse cx="476.65" cy="1044.49" rx="9.3" ry="7.5" stroke="#423a3b" stroke-width="1.7" fill="#ece6dd" transform="rotate(-20 476.65 1044.49)"/>
<ellipse cx="526.25" cy="1041.08" rx="11.3" ry="10.7" fill="#423a3b"/>
<ellipse cx="524.95" cy="1044.08" rx="9.3" ry="7.5" stroke="#423a3b" stroke-width="1.7" fill="#ece6dd" transform="rotate(-20 524.95 1044.08)"/>
<ellipse cx="576.75" cy="1041.76" rx="11.3" ry="10.7" fill="#423a3b"/>
<ellipse cx="575.45" cy="1044.76" rx="9.3" ry="7.5" stroke="#423a3b" stroke-width="1.7" fill="#ece6dd" transform="rotate(-20 575.45 1044.76)"/>
<ellipse cx="627.45" cy="1041.33" rx="11.3" ry="10.7" fill="#423a3b"/>
<ellipse cx="626.15" cy="1044.33" rx="9.3" ry="7.5" stroke="#423a3b" stroke-width="1.7" fill="#ece6dd" transform="rotate(-20 626.15 1044.33)"/>
<ellipse cx="676.26" cy="1041.91" rx="11.3" ry="10.7" fill="#423a3b"/>
<ellipse cx="674.96" cy="1044.91" rx="9.3" ry="7.5" stroke="#423a3b" stroke-width="1.7" fill="#ece6dd" transform="rotate(-20 674.96 1044.91)"/>
<ellipse cx="285.27" cy="1091.34" rx="11.3" ry="10.7" fill="#423a3b"/>
<ellipse cx="283.97" cy="1094.34" rx="9.3" ry="7.5" stroke="#423a3b" stroke-width="1.7" fill="#ece6dd" transform="rotate(-20 283.97 1094.34)"/>
<ellipse cx="334.57" cy="1091.72" rx="11.3" ry="10.7" fill="#423a3b"/>
<ellipse cx="333.27" cy="1094.72" rx="9.3" ry="7.5" stroke="#423a3b" stroke-width="1.7" fill="#ece6dd" transform="rotate(-20 333.27 1094.72)"/>
<ellipse cx="382.07" cy="1091.01" rx="11.3" ry="10.7" fill="#423a3b"/>
<ellipse cx="380.77" cy="1094.01" rx="9.3" ry="7.5" stroke="#423a3b" stroke-width="1.7" fill="#ece6dd" transform="rotate(-20 380.77 1094.01)"/>
<ellipse cx="429.57" cy="1091.11" rx="11.3" ry="10.7" fill="#423a3b"/>
<ellipse cx="428.27" cy="1094.11" rx="9.3" ry="7.5" stroke="#423a3b" stroke-width="1.7" fill="#ece6dd" transform="rotate(-20 428.27 1094.11)"/>
<ellipse cx="478.07" cy="1091.49" rx="11.3" ry="10.7" fill="#423a3b"/>
<ellipse cx="476.77" cy="1094.49" rx="9.3" ry="7.5" stroke="#423a3b" stroke-width="1.7" fill="#ece6dd" transform="rotate(-20 476.77 1094.49)"/>
<ellipse cx="527.07" cy="1090.98" rx="11.3" ry="10.7" fill="#423a3b"/>
<ellipse cx="525.77" cy="1093.98" rx="9.3" ry="7.5" stroke="#423a3b" stroke-width="1.7" fill="#ece6dd" transform="rotate(-20 525.77 1093.98)"/>
<ellipse cx="578.08" cy="1091.65" rx="11.3" ry="10.7" fill="#423a3b"/>
<ellipse cx="576.78" cy="1094.65" rx="9.3" ry="7.5" stroke="#423a3b" stroke-width="1.7" fill="#ece6dd" transform="rotate(-20 576.78 1094.65)"/>
<ellipse cx="627.58" cy="1091.33" rx="11.3" ry="10.7" fill="#423a3b"/>
<ellipse cx="626.28" cy="1094.33" rx="9.3" ry="7.5" stroke="#423a3b" stroke-width="1.7" fill="#ece6dd" transform="rotate(-20 626.28 1094.33)"/>
<ellipse cx="676.58" cy="1091.91" rx="11.3" ry="10.7" fill="#423a3b"/>
<ellipse cx="675.28" cy="1094.91" rx="9.3" ry="7.5" stroke="#423a3b" stroke-width="1.7" fill="#ece6dd" transform="rotate(-20 675.28 1094.91)"/>
<text x="315.17" y="1029.44" font-size="7.8" text-anchor="start" class="ls" font-weight="bold" style="stroke-width:0.1px">I</text>
<text x="409.27" y="1029.04" font-size="7.8" text-anchor="start" class="ls" font-weight="bold" textLength="9.5" lengthAdjust="spacingAndGlyphs" style="stroke-width:0.1px">10</text>
<text x="458.87" y="1029.12" font-size="7.8" text-anchor="start" class="ls" font-weight="bold" style="stroke-width:0.1px">I</text>
<text x="505.47" y="1029.22" font-size="7.8" text-anchor="start" class="ls" font-weight="bold" textLength="10.5" lengthAdjust="spacingAndGlyphs" style="stroke-width:0.1px">SJ</text>
<text x="554.87" y="1029.3" font-size="7.8" text-anchor="start" class="ls" font-weight="bold" style="stroke-width:0.1px">N</text>
<text x="605.67" y="1029.17" font-size="7.8" text-anchor="start" class="ls" font-weight="bold" style="stroke-width:0.1px">I</text>
<text x="655.68" y="1029.25" font-size="7.8" text-anchor="start" class="ls" font-weight="bold" textLength="17.5" lengthAdjust="spacingAndGlyphs" style="stroke-width:0.1px">A00</text>
<text x="315.08" y="1062.05" font-size="7.8" text-anchor="start" class="ls" font-weight="bold" textLength="12" lengthAdjust="spacingAndGlyphs" style="stroke-width:0.1px">00</text>
<text x="408.48" y="1061.84" font-size="7.8" text-anchor="start" class="ls" font-weight="bold" textLength="12" lengthAdjust="spacingAndGlyphs" style="stroke-width:0.1px">00</text>
<text x="458.48" y="1061.92" font-size="7.8" text-anchor="start" class="ls" font-weight="bold" textLength="12" lengthAdjust="spacingAndGlyphs" style="stroke-width:0.1px">00</text>
<text x="505.68" y="1062.02" font-size="7.8" text-anchor="start" class="ls" font-weight="bold" textLength="12" lengthAdjust="spacingAndGlyphs" style="stroke-width:0.1px">00</text>
<text x="555.49" y="1062.09" font-size="7.8" text-anchor="start" class="ls" font-weight="bold" textLength="12" lengthAdjust="spacingAndGlyphs" style="stroke-width:0.1px">00</text>
<text x="604.89" y="1061.97" font-size="7.8" text-anchor="start" class="ls" font-weight="bold" textLength="12" lengthAdjust="spacingAndGlyphs" style="stroke-width:0.1px">00</text>
<text x="315.39" y="1079.24" font-size="7.8" text-anchor="start" class="ls" font-weight="bold" textLength="17.8" lengthAdjust="spacingAndGlyphs" style="stroke-width:0.1px">A00</text>
<text x="362.59" y="1079.14" font-size="7.8" text-anchor="start" class="ls" font-weight="bold" textLength="8.5" lengthAdjust="spacingAndGlyphs" style="stroke-width:0.1px">IC</text>
<text x="555.4" y="1079.09" font-size="7.8" text-anchor="start" class="ls" font-weight="bold" textLength="9" lengthAdjust="spacingAndGlyphs" style="stroke-width:0.1px">IJ</text>
<text x="656.4" y="1079.24" font-size="7.8" text-anchor="start" class="ls" font-weight="bold" textLength="17.5" lengthAdjust="spacingAndGlyphs" style="stroke-width:0.1px">A00</text>
<text x="360.41" y="1112.75" font-size="7.8" text-anchor="start" class="ls" font-weight="bold" textLength="12" lengthAdjust="spacingAndGlyphs" style="stroke-width:0.1px">00</text>
<text x="555.21" y="1112.9" font-size="7.8" text-anchor="start" class="ls" font-weight="bold" textLength="12" lengthAdjust="spacingAndGlyphs" style="stroke-width:0.1px">00</text>
<path d="M1011.63 742.94 L904.83 743.23 Q882.35 745.18 880.2 769.19 L880.77 1307.2 L888.54 1302.15 L888.96 763.13 L888.96 763.13 Q889.67 748.63 903.86 746.64 Z" fill="#423a3b"/>
<path d="M905.84 744.82 L1010.84 744.55 L1006.59 1293.39" fill="none" stroke="#423a3b" stroke-width="2.8" stroke-linecap="butt" stroke-linejoin="miter"/>
<path d="M888.43 1300.15 C889.43 1300.39 891.94 1302.29 894.44 1301.61 C896.93 1300.93 899.92 1298.32 903.4 1296.05 C906.89 1293.78 911.2 1289.92 915.35 1287.97 C919.51 1286.03 924 1284.59 928.33 1284.39 C932.66 1284.2 937.17 1285.88 941.34 1286.81 C945.52 1287.73 949.36 1289.62 953.36 1289.93 C957.37 1290.24 961.53 1289.38 965.36 1288.65 C969.19 1287.93 972.67 1286.17 976.34 1285.58 C980 1284.99 984.16 1284.55 987.33 1285.11 C990.5 1285.67 993.02 1287.64 995.36 1288.96 C997.7 1290.28 999.48 1292.41 1001.39 1293.02 C1003.29 1293.62 1005.88 1292.66 1006.78 1292.58 L1007 1294.88 C1006.15 1295.74 1003.53 1299.34 1001.93 1300.02 C1000.34 1300.69 999.85 1299.7 997.42 1298.94 C995 1298.19 991.07 1295.9 987.4 1295.51 C983.73 1295.12 979.4 1295.89 975.41 1296.59 C971.41 1297.28 967.09 1299.01 963.43 1299.66 C959.77 1300.32 957.1 1300.76 953.43 1300.53 C949.77 1300.3 945.59 1298.91 941.42 1298.31 C937.25 1297.7 932.74 1296.61 928.41 1296.89 C924.08 1297.17 919.59 1298.53 915.43 1299.97 C911.27 1301.42 907.04 1304.03 903.46 1305.55 C899.89 1307.07 897.77 1308.84 893.99 1309.11 C890.21 1309.39 882.98 1307.52 880.77 1307.2 Z" fill="#423a3b"/>
<circle cx="977.13" cy="789.56" r="12.7" fill="#423a3b" stroke="none" stroke-width="0"/>
<circle cx="975.05" cy="791.88" r="8.6" fill="#ece6dd" stroke="none" stroke-width="0"/>
<text x="975.08" y="795.98" font-size="11.6" text-anchor="middle" class="ls" font-weight="normal">A</text>
<circle cx="977.61" cy="831.76" r="12.7" fill="#423a3b" stroke="none" stroke-width="0"/>
<circle cx="975.52" cy="834.08" r="8.6" fill="#ece6dd" stroke="none" stroke-width="0"/>
<text x="975.55" y="838.18" font-size="11.6" text-anchor="middle" class="ls" font-weight="normal">B</text>
<circle cx="980.48" cy="874.15" r="12.7" fill="#423a3b" stroke="none" stroke-width="0"/>
<circle cx="978.4" cy="876.46" r="8.6" fill="#ece6dd" stroke="none" stroke-width="0"/>
<text x="978.42" y="880.56" font-size="11.6" text-anchor="middle" class="ls" font-weight="normal">C</text>
<circle cx="980.75" cy="915.14" r="12.7" fill="#423a3b" stroke="none" stroke-width="0"/>
<circle cx="978.66" cy="917.46" r="8.6" fill="#ece6dd" stroke="none" stroke-width="0"/>
<text x="978.69" y="921.56" font-size="11.6" text-anchor="middle" class="ls" font-weight="normal">D</text>
<circle cx="980.22" cy="958.35" r="12.7" fill="#423a3b" stroke="none" stroke-width="0"/>
<circle cx="978.14" cy="960.66" r="8.6" fill="#ece6dd" stroke="none" stroke-width="0"/>
<text x="978.17" y="964.76" font-size="11.6" text-anchor="middle" class="ls" font-weight="normal">E</text>
<circle cx="980.89" cy="998.95" r="12.7" fill="#423a3b" stroke="none" stroke-width="0"/>
<circle cx="978.8" cy="1001.26" r="8.6" fill="#ece6dd" stroke="none" stroke-width="0"/>
<text x="978.83" y="1005.36" font-size="11.6" text-anchor="middle" class="ls" font-weight="normal">F</text>
<circle cx="980.07" cy="1042.45" r="12.7" fill="#423a3b" stroke="none" stroke-width="0"/>
<circle cx="977.98" cy="1044.76" r="8.6" fill="#ece6dd" stroke="none" stroke-width="0"/>
<text x="978.01" y="1048.86" font-size="11.6" text-anchor="middle" class="ls" font-weight="normal">G</text>
<circle cx="980.04" cy="1085.25" r="12.7" fill="#423a3b" stroke="none" stroke-width="0"/>
<circle cx="977.96" cy="1087.57" r="8.6" fill="#ece6dd" stroke="none" stroke-width="0"/>
<text x="977.99" y="1091.67" font-size="11.6" text-anchor="middle" class="ls" font-weight="normal">H</text>
<circle cx="980.01" cy="1126.05" r="12.7" fill="#423a3b" stroke="none" stroke-width="0"/>
<circle cx="977.92" cy="1128.37" r="8.6" fill="#ece6dd" stroke="none" stroke-width="0"/>
<text x="977.95" y="1132.47" font-size="11.6" text-anchor="middle" class="ls" font-weight="normal">I</text>
<circle cx="980.58" cy="1168.45" r="12.7" fill="#423a3b" stroke="none" stroke-width="0"/>
<circle cx="978.5" cy="1170.76" r="8.6" fill="#ece6dd" stroke="none" stroke-width="0"/>
<text x="978.52" y="1174.86" font-size="11.6" text-anchor="middle" class="ls" font-weight="normal">J</text>
<circle cx="979.54" cy="1209.16" r="12.7" fill="#423a3b" stroke="none" stroke-width="0"/>
<circle cx="977.46" cy="1211.47" r="8.6" fill="#ece6dd" stroke="none" stroke-width="0"/>
<text x="977.49" y="1215.57" font-size="11.6" text-anchor="middle" class="ls" font-weight="normal">K</text>
<circle cx="979.82" cy="1251.76" r="12.7" fill="#423a3b" stroke="none" stroke-width="0"/>
<circle cx="977.73" cy="1254.07" r="8.6" fill="#ece6dd" stroke="none" stroke-width="0"/>
<text x="977.76" y="1258.17" font-size="11.6" text-anchor="middle" class="ls" font-weight="normal">L</text>
<text x="965.82" y="772.14" font-size="12" text-anchor="start" class="ls" font-weight="normal" textLength="17.4" lengthAdjust="spacingAndGlyphs">00</text>
<text x="926.41" y="878.49" font-size="12.9" text-anchor="start" class="ds" font-weight="normal" textLength="22.7" lengthAdjust="spacingAndGlyphs">HG</text>
<text x="905.72" y="911.03" font-size="12.9" text-anchor="start" class="ds" font-weight="normal" textLength="49.1" lengthAdjust="spacingAndGlyphs">MODE</text>
<text x="905.82" y="927.73" font-size="12.9" text-anchor="start" class="ds" font-weight="normal" textLength="46.7" lengthAdjust="spacingAndGlyphs">XFER</text>
<text x="905.98" y="951.73" font-size="12.9" text-anchor="start" class="ds" font-weight="normal" textLength="34.9" lengthAdjust="spacingAndGlyphs">CAP</text>
<text x="906.09" y="968.43" font-size="12.9" text-anchor="start" class="ds" font-weight="normal" textLength="46.7" lengthAdjust="spacingAndGlyphs">XFER</text>
<text x="905.86" y="995.23" font-size="12.9" text-anchor="start" class="ds" font-weight="normal" textLength="27.3" lengthAdjust="spacingAndGlyphs">IDA</text>
<text x="905.97" y="1011.73" font-size="12.9" text-anchor="start" class="ds" font-weight="normal" textLength="47.1" lengthAdjust="spacingAndGlyphs">XFER</text>
<text x="933.79" y="1046.75" font-size="12.9" text-anchor="start" class="ds" font-weight="normal" textLength="11" lengthAdjust="spacingAndGlyphs">I.</text>
<text x="931.86" y="1087.46" font-size="12.9" text-anchor="start" class="ds" font-weight="normal" textLength="15.9" lengthAdjust="spacingAndGlyphs">C.</text>
<text x="923.02" y="1128.32" font-size="11.6" text-anchor="start" class="ds" font-weight="normal" textLength="25" lengthAdjust="spacingAndGlyphs">1. 0</text>
<text x="922.52" y="1175.23" font-size="11.6" text-anchor="start" class="ds" font-weight="normal" textLength="24.2" lengthAdjust="spacingAndGlyphs">0. 1</text>
<text x="913.29" y="1215.99" font-size="11.6" text-anchor="start" class="ds" font-weight="normal" textLength="33.2" lengthAdjust="spacingAndGlyphs">0. 01</text>
<text x="903.45" y="1256.35" font-size="11.6" text-anchor="start" class="ds" font-weight="normal" textLength="42.7" lengthAdjust="spacingAndGlyphs">0. 001</text>
<text x="931.37" y="795.46" font-size="17.5" text-anchor="middle" class="lr" font-weight="bold" font-style="italic">&#8747;</text>
<text x="930.61" y="832.27" font-size="17.5" text-anchor="middle" class="lr" font-weight="bold" font-style="italic">&#8747;</text>
<path d="M927.11 816.69 L934.91 816.74" fill="none" stroke="#423a3b" stroke-width="1.7" stroke-linecap="butt" stroke-linejoin="miter"/>
<path d="M988.78 1013.49 L988.75 1023.49" fill="none" stroke="#423a3b" stroke-width="1.6" stroke-linecap="butt" stroke-linejoin="miter"/>
</svg>
<div id="cap" style="left:700.14px;top:1353.07px;">Figure 3.2 <span style="margin:0 -2.6px 0 -2.2px;display:inline-block;transform:scaleX(0.86)">&mdash;</span> Integrating Amplifier, Layout and Control</div>
<div id="pgno" style="left:51.26px;top:1479.05px;">14</div>
</div>
</div>
</body></html>
